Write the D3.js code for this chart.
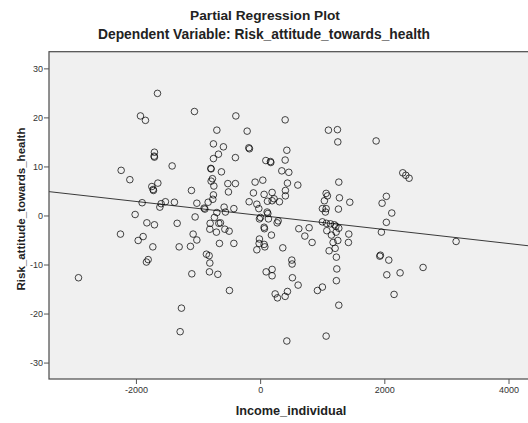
<!DOCTYPE html>
<html>
<head>
<meta charset="utf-8">
<script src="https://d3js.org/d3.v7.min.js"></script>
<style>
  body { margin: 0; background: #fff; }
  text { font-family: "Liberation Sans", Arial, sans-serif; }
  .tick text { fill: #333; font-size: 9px; }
  .tick line { stroke: #555; }
</style>
</head>
<body>
<script>
// residuals of Income_individual (x) and Risk_attitude_towards_health (y)
var income = [
  -1653, -1927, -1847, -1058, -391, 403, -697, -209, -752, -591,
  -182, -172, 430, -1702, -1707, -1702, -671, -752, -398, 92,
  166, 172, 403, -2238, -1417, -794, -789, -623, 349, 462,
  -2098, -768, -789, -520, -398, -81, 43, 440, 607, -1647,
  -1744, -1723, -1718, -745, -1106, -510, -108, 64, 193, 407,
  407, -752, -762, -1900, -1594, -1615, -1525, -1380, -1019, -837,
  -902, -890, -177, -53, -21, 118, 193, 225, 311, -580,
  -423, -559, -697, 113, 124,
  -2013, -1824, -1702, -1336, -1047, -736, -805, -665, -639, -568,
  -499, -810, -704, -11, 5, 64, 69, 290, 274, 134,
  623, -2249, -1884, -1964, -1728, -1079, -1019, -1304, -1122, -655,
  -423, 182, -11, -16, 64, 76, -53, 365, 510, 515,
  -865, -821, -810, -1803, -1831, -816, -1100, -681, 97, 193,
  193, 520, 612, -2925, -494, 242, 279, 403, 440, -1267,
  -1288, 430,
  1100, 1245, 1251, 1868, 1267, 2297, 2346, 2399, 1063, 1084,
  1277, 1444, 1035, 1003, 1063, 1051, 1261, 2033, 1964, 2120,
  1003, 1067, 1132, 1196, 1219, 1267, 1074, 1148, 1224, 789,
  720, 837, 1251, 1175, 1428, 1422, 2033, 1953, 3156, 1208,
  1111, 1228, 1927, 1937, 2072, 1235, 2040, 2254, 2624, 1228,
  1003, 923, 2157, 1267, 1063
];
var risk = [
  24.9, 20.3, 19.4, 21.2, 20.3, 19.5, 17.4, 17.2, 14.6, 14.0,
  13.8, 13.6, 13.3, 12.9, 12.1, 11.9, 12.5, 11.6, 11.8, 11.2,
  11.0, 10.8, 11.3, 9.2, 10.1, 9.6, 9.5, 8.9, 9.1, 8.8,
  7.3, 7.5, 7.0, 6.5, 6.5, 6.8, 7.2, 6.6, 6.2, 6.6,
  5.9, 5.3, 5.1, 6.0, 5.1, 4.8, 4.6, 4.3, 4.7, 5.1,
  4.0, 4.2, 3.3, 2.6, 2.4, 1.7, 2.8, 2.7, 2.5, 2.7,
  1.5, 1.3, 2.8, 2.3, 1.4, 2.9, 3.0, 3.4, 2.8, 1.7,
  1.4, 0.7, 0.6, 0.7, 0.4,
  0.2, -1.5, -1.9, -1.6, -0.3, -0.4, -1.6, -1.6, -1.5, -2.8,
  -3.2, -2.8, -3.4, -0.7, -0.4, -2.4, -2.7, -1.1, -1.5, -0.7,
  -2.7, -3.8, -4.3, -5.1, -6.4, -3.8, -5.0, -6.4, -6.3, -5.7,
  -5.7, -4.0, -4.8, -5.7, -5.9, -6.4, -7.0, -6.6, -9.1, -9.9,
  -7.9, -8.2, -9.7, -9.0, -9.5, -11.5, -11.9, -12.0, -11.5, -11.0,
  -12.3, -12.7, -14.2, -12.7, -15.3, -16.0, -16.8, -16.5, -15.5, -18.9,
  -23.7, -25.6,
  17.4, 17.5, 15.0, 15.2, 6.8, 8.7, 8.2, 7.6, 4.5, 4.0,
  3.6, 2.7, 3.0, 1.4, 1.4, 0.7, 1.3, 3.9, 2.5, 0.5,
  -1.3, -1.6, -1.7, -1.9, -2.2, -2.6, -3.1, -4.0, -3.4, -2.5,
  -4.2, -5.5, -5.1, -5.5, -3.8, -5.5, -1.4, -3.4, -5.3, -6.7,
  -7.2, -8.5, -8.3, -8.1, -9.1, -10.9, -12.1, -11.7, -10.6, -13.3,
  -14.6, -15.3, -16.1, -18.3, -24.6
];
var xTicks = [-2000, 0, 2000, 4000];
var yTicks = [-30, -20, -10, 0, 10, 20, 30];
var slope = -0.00143;   // partial regression line through origin

var width = 528, height = 423;
var mLeft = 49, mRight = 529, mTop = 51.7, mBottom = 379;

var svg = d3.select("body").append("svg")
    .attr("width", width)
    .attr("height", height);

var x = d3.scaleLinear().domain([-3400, 4330]).range([mLeft, mRight]);
var y = d3.scaleLinear().domain([-33.35, 33.4]).range([mBottom, mTop]);

svg.append("defs").append("clipPath").attr("id", "plot")
    .append("rect")
    .attr("x", mLeft).attr("y", mTop)
    .attr("width", mRight - mLeft).attr("height", mBottom - mTop);

svg.append("rect")
    .attr("x", mLeft).attr("y", mTop)
    .attr("width", mRight - mLeft).attr("height", mBottom - mTop)
    .attr("fill", "#f0f0f0");

var plot = svg.append("g").attr("clip-path", "url(#plot)");

var pts = income.map(function (d, i) { return {x: d, y: risk[i]}; });

plot.append("line")
    .attr("x1", x(x.domain()[0])).attr("y1", y(slope * x.domain()[0]))
    .attr("x2", x(x.domain()[1])).attr("y2", y(slope * x.domain()[1]))
    .attr("stroke", "#3a3a3a")
    .attr("stroke-width", 1);

plot.selectAll("circle")
    .data(pts)
    .enter().append("circle")
    .attr("cx", function (d) { return x(d.x); })
    .attr("cy", function (d) { return y(d.y); })
    .attr("r", 3.3)
    .attr("fill", "none")
    .attr("stroke", "#000")
    .attr("stroke-opacity", 0.72)
    .attr("stroke-width", 1);

// frame
svg.append("rect")
    .attr("x", mLeft).attr("y", mTop)
    .attr("width", mRight - mLeft).attr("height", mBottom - mTop)
    .attr("fill", "none")
    .attr("stroke", "#4a4a4a")
    .attr("stroke-width", 1.2);

var plain = function (d) { return String(d); };

var yAxis = svg.append("g")
    .attr("transform", "translate(" + mLeft + ",0)")
    .call(d3.axisLeft(y).tickValues(yTicks).tickSize(5).tickSizeOuter(0).tickPadding(1)
        .tickFormat(plain));
yAxis.select(".domain").remove();

var xAxis = svg.append("g")
    .attr("transform", "translate(0," + mBottom + ")")
    .call(d3.axisBottom(x).tickValues(xTicks).tickSize(5).tickSizeOuter(0).tickPadding(3)
        .tickFormat(plain));
xAxis.select(".domain").remove();
svg.selectAll(".tick text").attr("font-family", "Liberation Sans, Arial, sans-serif");

svg.append("text")
    .attr("x", 265).attr("y", 19.5)
    .attr("text-anchor", "middle")
    .attr("font-size", "13.7px").attr("font-weight", "bold").attr("fill", "#222")
    .text("Partial Regression Plot");

svg.append("text")
    .attr("x", 264).attr("y", 38.5)
    .attr("text-anchor", "middle")
    .attr("font-size", "13.8px").attr("font-weight", "bold").attr("fill", "#222")
    .text("Dependent Variable: Risk_attitude_towards_health");

svg.append("text")
    .attr("x", 291).attr("y", 415)
    .attr("text-anchor", "middle")
    .attr("font-size", "12.7px").attr("font-weight", "bold").attr("fill", "#222")
    .text("Income_individual");

svg.append("text")
    .attr("transform", "translate(25,209) rotate(-90)")
    .attr("text-anchor", "middle")
    .attr("font-size", "11.5px").attr("font-weight", "bold").attr("fill", "#222")
    .text("Risk_attitude_towards_health");
</script>
</body>
</html>
